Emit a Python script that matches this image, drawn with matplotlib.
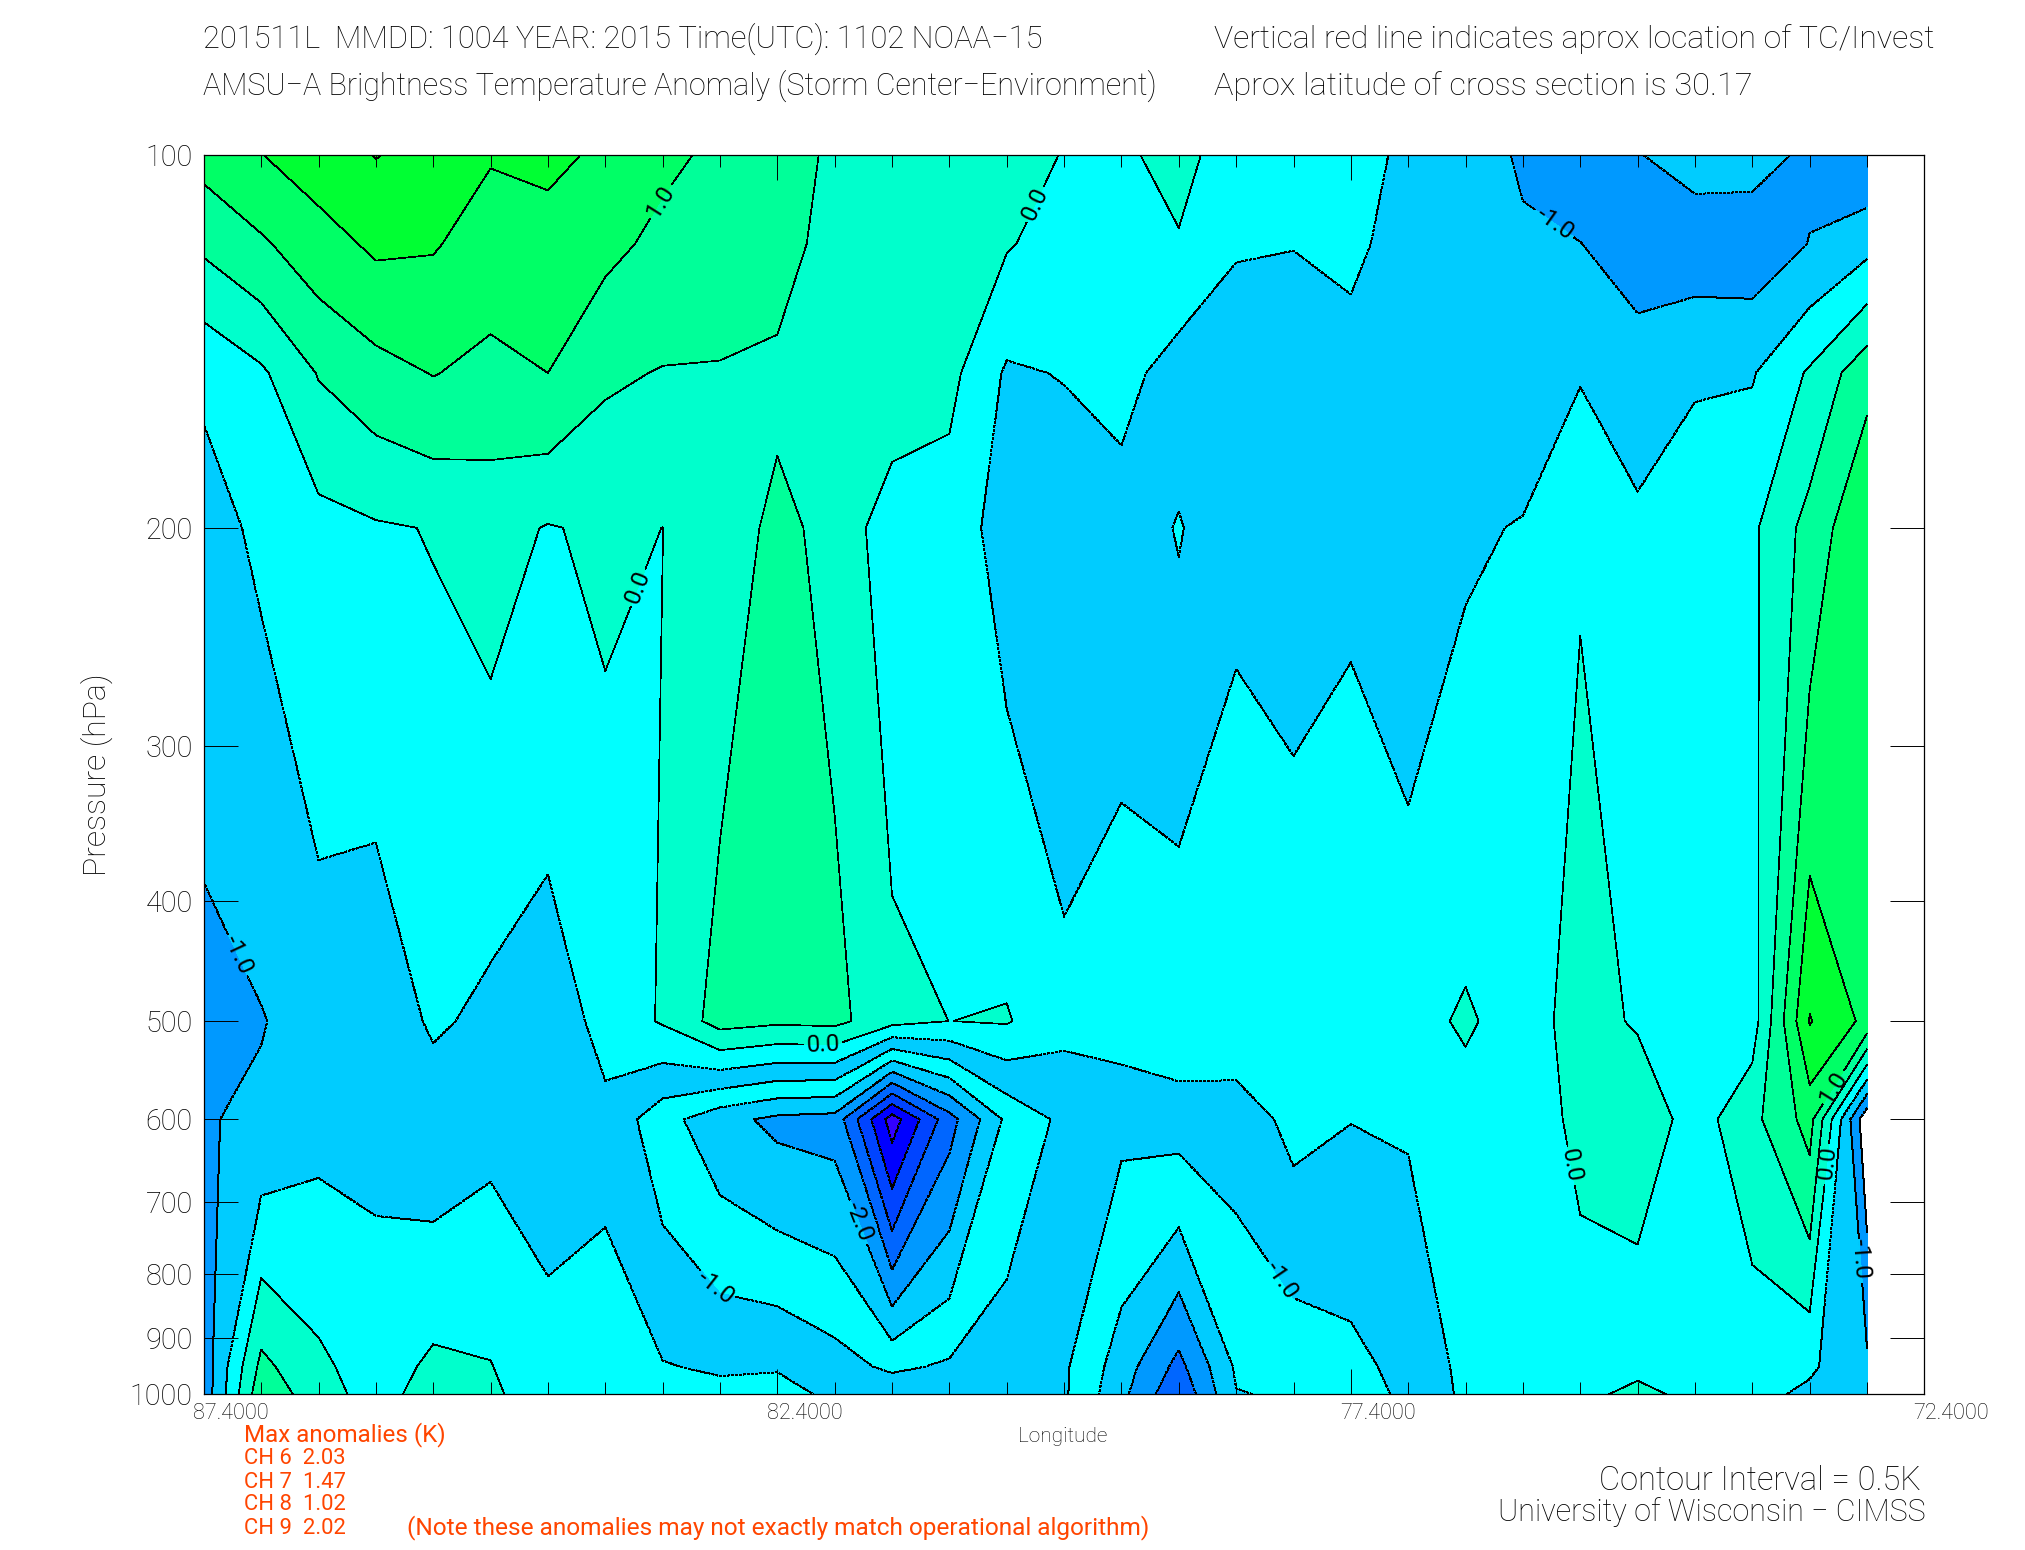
import matplotlib
matplotlib.use('Agg')
import matplotlib.pyplot as plt
import numpy as np

W, H = 2025, 1550

lons = [87.4, 86.9, 86.4, 85.9, 85.4, 84.9, 84.4, 83.9, 83.4, 82.9,
        82.4, 81.9, 81.4, 80.9, 80.4, 79.9, 79.4, 78.9, 78.4, 77.9,
        77.4, 76.9, 76.4, 75.9, 75.4, 74.9, 74.4, 73.9, 73.4, 72.9]
pressure = [100, 118, 150, 200, 500, 600, 950, 1000]

# anomaly at each level, west to east
t100 = [1.18, 1.49, 1.75, 2.02, 1.83, 1.535, 1.58, 1.44, 1.10, 0.91,
        0.89, 0.35, 0.30, 0.32, 0.38, -0.04, -0.144, 0.296, -0.469, -0.32,
        -0.30, -0.606, -0.815, -1.05, -1.2, -1.02, -0.80, -0.80, -1.10, -1.46]
t118 = [0.60, 0.93, 1.30, 1.59, 1.54, 1.29, 1.37, 1.13, 0.88, 0.75,
        0.71, 0.30, 0.33, 0.26, 0.04, -0.20, -0.21, -0.07, -0.494, -0.486,
        -0.42, -0.65, -0.85, -0.95, -0.995, -1.15, -1.277, -1.305, -0.985, -0.66]
t150 = [-0.44, -0.08, 0.53, 0.82, 1.02, 0.86, 1.0, 0.576, 0.475, 0.47,
        0.40, 0.25, 0.375, 0.144, -0.566, -0.474, -0.333, -0.724, -0.54, -0.78,
        -0.64, -0.75, -0.88, -0.80, -0.54, -0.855, -0.55, -0.536, 0.064, 0.85]
t200 = [-0.64, -0.43, -0.17, -0.05, 0.02, 0.177, -0.03, 0.084, -0.002, 0.28,
        0.60, 0.38, -0.32, -0.257, -0.696, -0.86, -0.72, -0.99, -0.60, -0.69,
        -0.57, -0.77, -0.565, -0.47, -0.033, -0.375, -0.25, -0.087, 0.686, 1.46]
t500 = [-1.22, -1.03, -0.75, -0.90, -0.41, -0.64, -0.81, -0.33, 0.05, 0.70,
        0.59, 0.635, 0.17, -0.003, 0.04, -0.35, -0.225, -0.08, -0.10, -0.15,
        -0.20, -0.17, 0.065, -0.22, 0.19, -0.055, -0.30, -0.24, 2.03, 1.37]
t600 = [-1.04, -0.90, -0.65, -0.62, -0.84, -0.64, -0.64, -0.62, -1.31, -1.83,
        -2.12, -2.19, -4.24, -2.70, -1.39, -0.88, -0.88, -0.79, -0.79, -0.35,
        -0.49, -0.456, -0.20, -0.34, 0.15, 0.367, -0.232, 0.359, 1.19, -1.90]
t950 = [-1.294, 0.631, 0.11, -0.264, 0.105, 0.021, -0.399, -0.305, -0.474, -0.56,
        -0.545, -0.803, -1.099, -0.928, -0.734, -0.924, -1.746, -2.654, -1.429, -1.313,
        -1.142, -0.838, -0.375, -0.39, -0.30, -0.45, -0.42, -0.315, -0.42, -0.91]
t1000 = [-1.33, 0.85, 0.219, -0.213, 0.24, 0.115, -0.364, -0.26, -0.355, -0.38,
         -0.32, -0.605, -0.65, -0.675, -0.64, -0.93, -1.87, -2.92, -1.52, -1.45,
         -1.235, -0.893, -0.40, -0.40, -0.45, 0.45, -0.45, -0.354, -0.60, -0.78]

# small warm spot near 200 hPa, 78.9E
spot_lons = [79.4, 78.9, 78.4]
spot_pressure = [180, 200, 240]
spot_180 = [-0.80, -0.593, -0.80]
spot_200 = [-0.814, -0.46, -0.92]
spot_240 = [-0.80, -0.606, -0.80]

fill_levels = [-6, -4, -3.5, -3, -2.5, -2, -1.5, -1, -0.5, 0, 0.5, 1, 1.5, 2, 3]
line_levels = [-4, -3.5, -3, -2.5, -2, -1.5, -1, -0.5, 0, 0.5, 1, 1.5, 2]

warm_colors = ['#00ffff', '#00ffcc', '#00ff99', '#00ff66', '#00ff33', '#00ff00']
edge_colors = ['white'] * 6 + ['#0099ff', '#00ccff'] + warm_colors
# the closed lows in the middle of the section are painted with a shifted table
low_colors = ['#3300ff', '#0000ff', '#0044ff', '#0066ff', '#0099ff', '#00ccff',
              '#00ffff', '#00ccff'] + warm_colors

tick_lons = [87.4, 82.4, 77.4, 72.4]
tick_lon_labels = ['87.4000', '82.4000', '77.4000', '72.4000']
minor_lons = [87.4 - 0.5 * i for i in range(31)]
tick_p = [100, 200, 300, 400, 500, 600, 700, 800, 900, 1000]

label_spots = [(83.49, 108), (73.26, 560), (80.22, 108.8), (83.68, 222), (82.0, 517.6),
               (75.45, 653), (73.25, 650), (75.61, 113.3), (87.09, 441), (72.95, 778),
               (82.91, 816), (77.99, 806), (81.67, 724)]

plt.rcParams['font.family'] = ['Roboto', 'DejaVu Sans']
text_w = 'light'
red = '#ff4500'

Z = np.array([t100, t118, t150, t200, t500, t600, t950, t1000])
X = np.array(lons)
P = np.array(pressure)
Z_spot = np.array([spot_180, spot_200, spot_240])

fig = plt.figure(figsize=(W / 100, H / 100), dpi=100)
ax = fig.add_axes([203.8 / W, 1 - 1394.3 / H, 1720.6 / W, 1239.6 / H])

ax.contourf(X, P, Z, levels=fill_levels, colors=edge_colors)
ax.contourf(X[2:22], P, Z[:, 2:22], levels=fill_levels, colors=low_colors)
ax.contourf(spot_lons, spot_pressure, Z_spot, levels=[-1, -0.5, 0], colors=['#00ccff', '#00ffff'])
ax.contour(spot_lons, spot_pressure, Z_spot, levels=[-0.5], colors='k', linewidths=0.5,
           antialiased=False)
cs = ax.contour(X, P, Z, levels=line_levels, colors='k', linewidths=0.5, antialiased=False)

ax.set_yscale('log')
ax.set_xlim(87.4, 72.4)
ax.set_ylim(1000, 100)

ax.clabel(cs, line_levels, fmt='%.1f', manual=label_spots, inline=True, inline_spacing=3,
          fontsize=17.5, colors='k')

ax.set_axisbelow(False)
ax.set_xticks(tick_lons, [''] * 4)
ax.set_xticks(minor_lons, minor=True)
ax.set_yticks(tick_p, [str(p) for p in tick_p])
ax.yaxis.set_minor_locator(matplotlib.ticker.NullLocator())
ax.tick_params(axis='x', which='major', direction='in', top=True, length=18, width=0.7)
ax.tick_params(axis='x', which='minor', direction='in', top=True, length=8.6, width=0.7)
ax.tick_params(axis='y', which='major', direction='in', right=True, length=24.5, width=0.7,
               labelsize=20.7, pad=8)
for lab in ax.get_yticklabels():
    lab.set_fontweight(text_w)
for side in ax.spines.values():
    side.set_linewidth(0.9)

for lon, txt in zip(tick_lons, tick_lon_labels):
    ax.annotate(txt, (lon, 0), xycoords=('data', 'axes fraction'), xytext=(19.5, -14),
                textcoords='offset points', ha='center', va='center', fontsize=15.6,
                fontweight=text_w)


def put(x, y, s, **kw):
    kw.setdefault('fontweight', text_w)
    kw.setdefault('va', 'center')
    fig.text(x / W, 1 - y / H, s, **kw)


put(203, 39, '201511L  MMDD: 1004 YEAR: 2015 Time(UTC): 1102 NOAA\u221215', fontsize=22.2)
put(203, 86, 'AMSU\u2212A Brightness Temperature Anomaly (Storm Center\u2212Environment)', fontsize=22)
put(1214, 39, 'Vertical red line indicates aprox location of TC/Invest', fontsize=23)
put(1214, 86, 'Aprox latitude of cross section is 30.17', fontsize=23.4)

put(97, 775, 'Pressure (hPa)', fontsize=23, rotation=90, ha='center')
put(1063, 1437, 'Longitude', fontsize=15, ha='center')

put(244, 1435, 'Max anomalies (K)', fontsize=17.4, color=red, fontweight='normal')
put(244, 1459, 'CH 6  2.03', fontsize=15.8, color=red, fontweight='normal')
put(244, 1482, 'CH 7  1.47', fontsize=15.8, color=red, fontweight='normal')
put(244, 1505, 'CH 8  1.02', fontsize=15.8, color=red, fontweight='normal')
put(244, 1528, 'CH 9  2.02', fontsize=15.8, color=red, fontweight='normal')
put(407, 1528, '(Note these anomalies may not exactly match operational algorithm)', fontsize=17.6,
    color=red, fontweight='normal')

put(1599, 1481, 'Contour Interval = 0.5K', fontsize=23.5)
put(1498, 1512, 'University of Wisconsin \u2212 CIMSS', fontsize=22)

fig.savefig('out.png', dpi=100)
